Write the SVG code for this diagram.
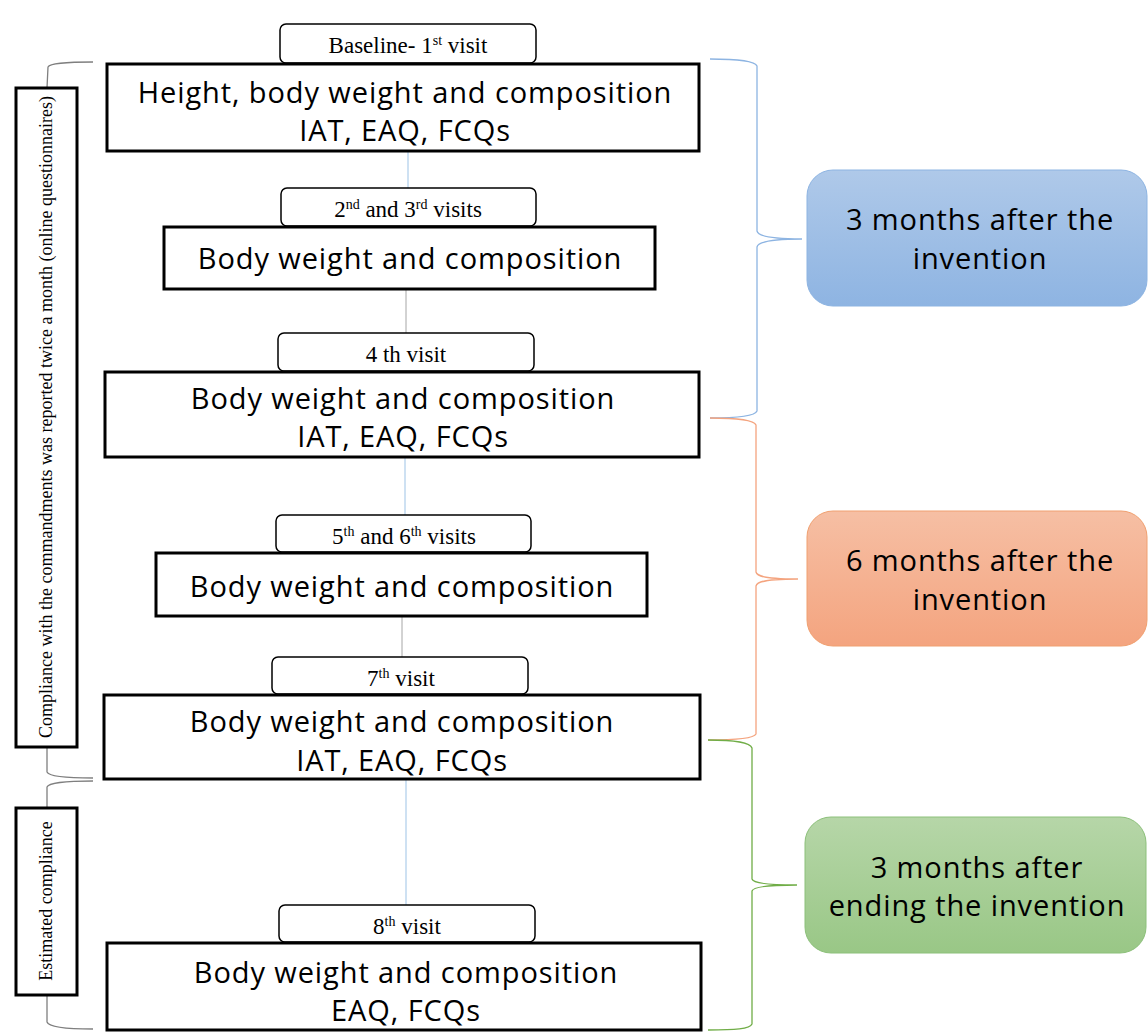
<svg xmlns="http://www.w3.org/2000/svg" width="1148" height="1034" viewBox="0 0 1148 1034">
  <defs>
    <linearGradient id="gBlue" x1="0" y1="0" x2="0" y2="1">
      <stop offset="0" stop-color="#afc9e9"/>
      <stop offset="1" stop-color="#8eb4e2"/>
    </linearGradient>
    <linearGradient id="gOrange" x1="0" y1="0" x2="0" y2="1">
      <stop offset="0" stop-color="#f6bfa4"/>
      <stop offset="1" stop-color="#f4a47f"/>
    </linearGradient>
    <linearGradient id="gGreen" x1="0" y1="0" x2="0" y2="1">
      <stop offset="0" stop-color="#b6d6a8"/>
      <stop offset="1" stop-color="#99c786"/>
    </linearGradient>
  </defs>
  <style>
    .main { fill: #ffffff; stroke: #000000; stroke-width: 3; }
    .tag { fill: #ffffff; stroke: #000000; stroke-width: 1.5; }
    .side { fill: #ffffff; stroke: #000000; stroke-width: 3; }
    .sans { font-family: "Open Sans", "Noto Sans", sans-serif; font-size: 29px; letter-spacing: 0.9px; fill: #000000; text-anchor: middle; }
    .serif { font-family: "Liberation Serif", "Times New Roman", serif; font-size: 23px; fill: #000000; text-anchor: middle; }
    .vert { font-family: "Liberation Serif", "Times New Roman", serif; font-size: 18px; fill: #000000; text-anchor: middle; }
    .link { fill: none; stroke-width: 1; }
    .brace { fill: none; stroke-width: 1.3; }
  </style>

  <!-- vertical links between the visit blocks -->
  <g id="connectors">
    <line class="link" x1="408" y1="151" x2="408" y2="188" stroke="#9dc3e6"/>
    <line class="link" x1="406" y1="289" x2="406" y2="333" stroke="#a6a6a6"/>
    <line class="link" x1="405" y1="457" x2="405" y2="515" stroke="#9dc3e6"/>
    <line class="link" x1="402" y1="616" x2="402" y2="657" stroke="#a6a6a6"/>
    <line class="link" x1="406" y1="779" x2="406" y2="905" stroke="#9dc3e6"/>

    <!-- left braces -->
    <path class="brace" stroke="#7f7f7f" d="M93,62 C70,62 50,63 48,67 L47,88"/>
    <path class="brace" stroke="#7f7f7f" d="M47,747 L47,772 C49,777 70,778 93,778"/>
    <path class="brace" stroke="#7f7f7f" d="M93,781 C70,781 49,782 47,787 L47,808"/>
    <path class="brace" stroke="#7f7f7f" d="M47,995 L47,1022 C49,1028 70,1029 93,1029"/>

    <!-- right braces -->
    <path class="brace" stroke="#8db4e2" d="M710,59 C735,59 755,61 757,66 L757,231 C758,236 770,239 802,239 C770,239 758,242 757,247 L757,411 C755,416 735,418 710,418"/>
    <path class="brace" stroke="#f4a47f" d="M710,418 C735,418 754,420 756,425 L756,572 C757,577 768,579 798,579 C768,579 757,581 756,586 L756,734 C754,738 735,740 708,740"/>
    <path class="brace" stroke="#70ad47" stroke-width="2" d="M708,740 C735,740 750,742 752,748 L752,879 C753,883 765,885 797,885 C765,885 753,887 752,891 L752,1024 C750,1029 735,1030 708,1030"/>
  </g>

  <!-- baseline visit -->
  <g id="tag1">
    <rect class="tag" x="280" y="24" width="256" height="39" rx="6"/>
    <text class="serif" x="408" y="53">Baseline- 1<tspan font-size="14" dy="-8">st</tspan><tspan dy="8"> visit</tspan></text>
  </g>
  <g id="box1">
    <rect class="main" x="107" y="64" width="592" height="87"/>
    <text class="sans" x="405" y="103">Height, body weight and composition</text>
    <text class="sans" x="405" y="141">IAT, EAQ, FCQs</text>
  </g>

  <!-- visits 2 and 3 -->
  <g id="tag2">
    <rect class="tag" x="281" y="188" width="255" height="38" rx="6"/>
    <text class="serif" x="408" y="217">2<tspan font-size="14" dy="-8">nd</tspan><tspan dy="8"> and 3</tspan><tspan font-size="14" dy="-8">rd</tspan><tspan dy="8"> visits</tspan></text>
  </g>
  <g id="box2">
    <rect class="main" x="164" y="227" width="491" height="62"/>
    <text class="sans" x="410" y="269">Body weight and composition</text>
  </g>

  <!-- visit 4 -->
  <g id="tag3">
    <rect class="tag" x="278" y="333" width="256" height="38" rx="6"/>
    <text class="serif" x="406" y="362">4 th visit</text>
  </g>
  <g id="box3">
    <rect class="main" x="105" y="372" width="594" height="85"/>
    <text class="sans" x="403" y="409">Body weight and composition</text>
    <text class="sans" x="403" y="447">IAT, EAQ, FCQs</text>
  </g>

  <!-- visits 5 and 6 -->
  <g id="tag4">
    <rect class="tag" x="276" y="515" width="255" height="37" rx="6"/>
    <text class="serif" x="404" y="544">5<tspan font-size="14" dy="-8">th</tspan><tspan dy="8"> and 6</tspan><tspan font-size="14" dy="-8">th</tspan><tspan dy="8"> visits</tspan></text>
  </g>
  <g id="box4">
    <rect class="main" x="156" y="553" width="491" height="63"/>
    <text class="sans" x="402" y="597">Body weight and composition</text>
  </g>

  <!-- visit 7 -->
  <g id="tag5">
    <rect class="tag" x="272" y="657" width="256" height="37" rx="6"/>
    <text class="serif" x="401" y="686">7<tspan font-size="14" dy="-8">th</tspan><tspan dy="8"> visit</tspan></text>
  </g>
  <g id="box5">
    <rect class="main" x="104" y="695" width="596" height="84"/>
    <text class="sans" x="402" y="732">Body weight and composition</text>
    <text class="sans" x="402" y="771">IAT, EAQ, FCQs</text>
  </g>

  <!-- visit 8 -->
  <g id="tag6">
    <rect class="tag" x="279" y="905" width="256" height="37" rx="6"/>
    <text class="serif" x="407" y="934">8<tspan font-size="14" dy="-8">th</tspan><tspan dy="8"> visit</tspan></text>
  </g>
  <g id="box6">
    <rect class="main" x="107" y="943" width="594" height="87"/>
    <text class="sans" x="406" y="983">Body weight and composition</text>
    <text class="sans" x="406" y="1021">EAQ, FCQs</text>
  </g>

  <!-- compliance side panels -->
  <g id="side1">
    <rect class="side" x="16" y="88" width="61" height="659"/>
    <text class="vert" transform="translate(52,417) rotate(-90)">Compliance with the commandments was reported twice a month (online questionnaires)</text>
  </g>
  <g id="side2">
    <rect class="side" x="16" y="808" width="61" height="187"/>
    <text class="vert" font-size="17" transform="translate(52,901) rotate(-90)">Estimated compliance</text>
  </g>

  <!-- period labels -->
  <g id="period1">
    <rect x="807" y="170" width="340" height="136" rx="26" fill="url(#gBlue)" stroke="#8db4e2" stroke-width="1"/>
    <text class="sans" x="980" y="230">3 months after the</text>
    <text class="sans" x="980" y="269">invention</text>
  </g>
  <g id="period2">
    <rect x="807" y="511" width="340" height="135" rx="26" fill="url(#gOrange)" stroke="#f0a070" stroke-width="1"/>
    <text class="sans" x="980" y="571">6 months after the</text>
    <text class="sans" x="980" y="610">invention</text>
  </g>
  <g id="period3">
    <rect x="805" y="817" width="341" height="136" rx="26" fill="url(#gGreen)" stroke="#8cc07a" stroke-width="1"/>
    <text class="sans" x="977" y="878">3 months after</text>
    <text class="sans" x="977" y="916">ending the invention</text>
  </g>
</svg>
